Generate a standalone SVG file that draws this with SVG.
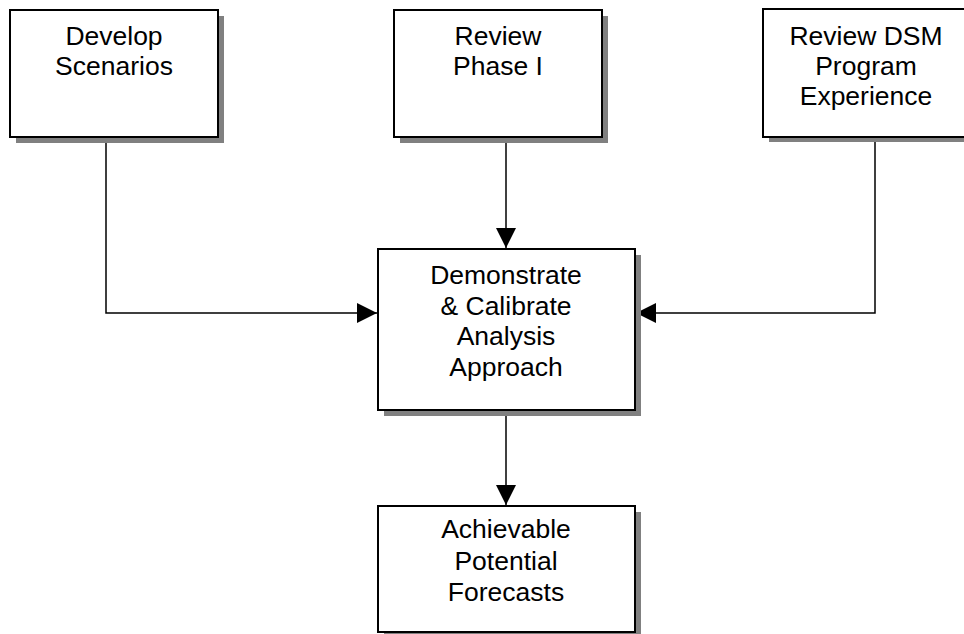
<svg xmlns="http://www.w3.org/2000/svg" width="964" height="634" viewBox="0 0 964 634">
<style>
.shadow{fill:#808080;stroke:none}
.box{fill:#fff;stroke:#000;stroke-width:2}
.t{font-family:"Liberation Sans",Arial,sans-serif;font-size:26.5px;fill:#000;text-anchor:middle}
.c{fill:none;stroke:#000;stroke-width:1.5}
</style>
<defs>
<marker id="arr" viewBox="0 0 20 20" refX="20" refY="10" markerWidth="20" markerHeight="20" markerUnits="userSpaceOnUse" orient="auto">
<path d="M0,0 L20,10 L0,20 Z" fill="#000"/>
</marker>
</defs>
<rect width="964" height="634" fill="#fff"/>
<g id="connectors">
<path class="c" d="M106,137 V313 H377" marker-end="url(#arr)"/>
<path class="c" d="M506,137 V248" marker-end="url(#arr)"/>
<path class="c" d="M875,137 V313 H636" marker-end="url(#arr)"/>
<path class="c" d="M506,410 V505" marker-end="url(#arr)"/>
</g>
<g id="develop">
<rect class="shadow" x="16" y="16" width="208" height="127"/>
<rect class="box" x="10" y="10" width="208" height="127"/>
<text class="t" x="114" y="45">Develop</text>
<text class="t" x="114" y="75">Scenarios</text>
</g>
<g id="review-phase">
<rect class="shadow" x="400" y="16" width="208" height="127"/>
<rect class="box" x="394" y="10" width="208" height="127"/>
<text class="t" x="498" y="45">Review</text>
<text class="t" x="498" y="75">Phase I</text>
</g>
<g id="review-dsm">
<rect class="shadow" x="769" y="15" width="208" height="127"/>
<rect class="box" x="763" y="9" width="208" height="128"/>
<text class="t" x="866" y="45">Review DSM</text>
<text class="t" x="866" y="75">Program</text>
<text class="t" x="866" y="105">Experience</text>
</g>
<g id="demonstrate">
<rect class="shadow" x="384" y="255" width="257" height="161"/>
<rect class="box" x="378" y="249" width="257" height="161"/>
<text class="t" x="506" y="284">Demonstrate</text>
<text class="t" x="506" y="315">&amp; Calibrate</text>
<text class="t" x="506" y="345">Analysis</text>
<text class="t" x="506" y="376">Approach</text>
</g>
<g id="achievable">
<rect class="shadow" x="384" y="512" width="257" height="130"/>
<rect class="box" x="378" y="506" width="257" height="126"/>
<text class="t" x="506" y="538">Achievable</text>
<text class="t" x="506" y="570">Potential</text>
<text class="t" x="506" y="601">Forecasts</text>
</g>
</svg>
